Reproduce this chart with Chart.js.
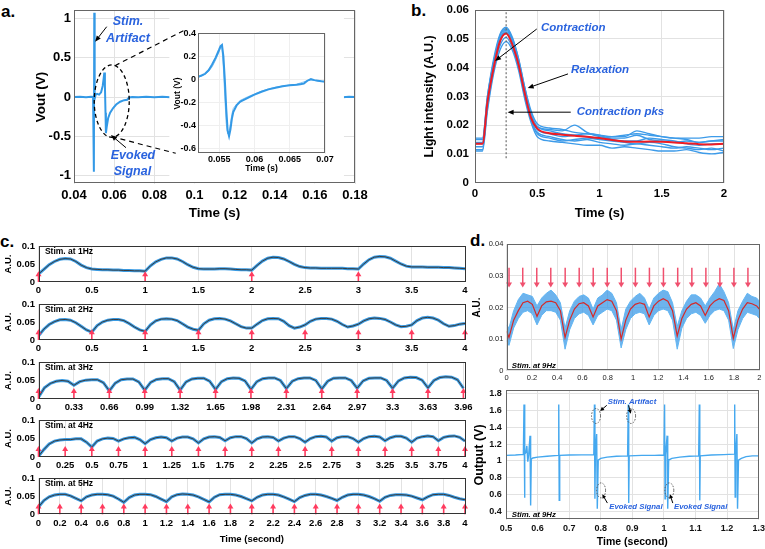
<!DOCTYPE html>
<html>
<head>
<meta charset="utf-8">
<script src="https://cdn.jsdelivr.net/npm/chart.js@4.4.1/dist/chart.umd.min.js"></script>
<style>
body { margin: 0; background: #fff; width: 765px; height: 549px; overflow: hidden; position: relative; }
canvas { position: absolute; }
.lbl { position: absolute; font: bold 17px 'Liberation Sans', Arial, sans-serif; line-height: 17px; color: #000; }
</style>
</head>
<body>
<div class="lbl" style="left:1px;top:3px">a.</div>
<div class="lbl" style="left:411px;top:2px">b.</div>
<div class="lbl" style="left:0px;top:233px">c.</div>
<div class="lbl" style="left:470px;top:232px">d.</div>
<script>
// ---- panel a: evoked signal ----
var aTime = [0.04,0.043,0.046,0.0485,0.0495,0.0499,0.0501,0.0503,0.0508,0.0515,0.0525,0.0535,0.0543,0.0548,0.0551,0.0554,0.0557,0.0559,0.0563,0.057,0.058,0.0595,0.061,0.063,0.065,0.0665,0.0675,0.069,0.072,0.076,0.08,0.084,0.088,0.092,0.17,0.174,0.177,0.18];
var aVout = [0.0,0.004,-0.003,0.002,0.0,-0.95,1.07,-0.02,0.03,0.04,0.03,0.06,0.14,0.24,0.31,0.15,-0.2,-0.46,-0.38,-0.27,-0.2,-0.14,-0.095,-0.06,-0.04,-0.035,-0.005,0.0,-0.004,0.003,-0.002,0.004,-0.003,0.0,0.002,-0.004,0.003,0.0];
var aTicksX = [0.04,0.06,0.08,0.1,0.12,0.14,0.16,0.18];
var aTicksY = [-1,-0.5,0,0.5,1];

var aInsetTime = [0.052,0.0525,0.053,0.0535,0.054,0.0545,0.055,0.0552,0.0554,0.0556,0.0558,0.056,0.0562,0.0564,0.0566,0.0568,0.057,0.0575,0.058,0.059,0.06,0.061,0.062,0.063,0.064,0.065,0.066,0.0665,0.067,0.0675,0.068,0.0685,0.069,0.0695,0.07];
var aInsetV1 = [0.025,0.035,0.05,0.08,0.13,0.19,0.26,0.29,0.3,0.2,0.0,-0.25,-0.44,-0.49,-0.43,-0.34,-0.28,-0.22,-0.19,-0.16,-0.13,-0.105,-0.085,-0.07,-0.058,-0.05,-0.045,-0.04,-0.035,-0.01,0.005,-0.005,-0.01,-0.015,-0.018];
var aInsetV2 = [0.02,0.03,0.045,0.07,0.11,0.17,0.24,0.28,0.27,0.1,-0.15,-0.38,-0.47,-0.45,-0.38,-0.3,-0.25,-0.21,-0.18,-0.15,-0.125,-0.1,-0.08,-0.066,-0.055,-0.048,-0.04,-0.03,-0.02,-0.01,-0.005,-0.008,-0.012,-0.014,-0.016];
var aInsetTicksX = [0.055,0.06,0.065,0.07];
var aInsetTicksY = [-0.6,-0.4,-0.2,0,0.2,0.4];

// ---- panel b: light intensity ----
var bTime = [0,0.06,0.1,0.15,0.2,0.25,0.3,0.35,0.4,0.45,0.5,0.6,0.7,0.8,0.9,1.0,1.1,1.2,1.3,1.4,1.5,1.6,1.7,1.8,1.9,2.0];
var bMean = [0.0135,0.0135,0.028,0.040,0.049,0.0518,0.048,0.041,0.031,0.0225,0.0188,0.0172,0.0167,0.0163,0.0160,0.0155,0.0148,0.0143,0.0142,0.0143,0.0142,0.0140,0.0137,0.0134,0.0133,0.0135];
var bTrace1 = [0.0155,0.0155,0.030,0.043,0.0515,0.054,0.0505,0.043,0.033,0.025,0.0205,0.019,0.0185,0.0175,0.017,0.0165,0.016,0.0165,0.017,0.0165,0.016,0.0155,0.0155,0.0155,0.016,0.016];
var bTrace2 = [0.011,0.011,0.025,0.038,0.046,0.049,0.046,0.039,0.029,0.021,0.016,0.0145,0.014,0.0135,0.013,0.013,0.012,0.0125,0.012,0.0115,0.011,0.011,0.0115,0.0105,0.010,0.0105];
var bTrace3 = [0.014,0.014,0.029,0.042,0.050,0.053,0.0495,0.042,0.032,0.024,0.0195,0.0185,0.018,0.020,0.0175,0.016,0.0155,0.0155,0.0165,0.015,0.0145,0.014,0.0145,0.014,0.0145,0.0145];
var bTrace4 = [0.0125,0.0125,0.026,0.039,0.0475,0.0505,0.047,0.040,0.030,0.022,0.0175,0.016,0.015,0.0145,0.015,0.014,0.0135,0.013,0.0135,0.013,0.0125,0.012,0.0125,0.012,0.0115,0.012];
var bTrace5 = [0.015,0.015,0.030,0.042,0.051,0.0535,0.050,0.043,0.033,0.024,0.0195,0.018,0.017,0.0165,0.016,0.0155,0.016,0.016,0.018,0.017,0.016,0.0155,0.015,0.014,0.0145,0.015];
var bTrace6 = [0.0115,0.0115,0.027,0.040,0.049,0.052,0.0485,0.041,0.031,0.022,0.017,0.0155,0.0145,0.015,0.0155,0.015,0.0145,0.014,0.0135,0.014,0.0135,0.0125,0.012,0.0115,0.012,0.011];
var bTrace7 = [0.0135,0.0135,0.028,0.041,0.0495,0.0525,0.049,0.042,0.032,0.023,0.0185,0.017,0.016,0.0165,0.017,0.0165,0.015,0.0145,0.0145,0.0155,0.015,0.0145,0.0135,0.013,0.0135,0.0135];
var bTicksX = [0,0.5,1,1.5,2];
var bTicksY = [0,0.01,0.02,0.03,0.04,0.05,0.06];

// ---- panel c: stimulation strips ----
var cTime = [0,0.05,0.1,0.15,0.2,0.25,0.3,0.35,0.4,0.45,0.5,0.55,0.6,0.65,0.7,0.75,0.8,0.85,0.9,0.95,1,1.05,1.1,1.15,1.2,1.25,1.3,1.35,1.4,1.45,1.5,1.55,1.6,1.65,1.7,1.75,1.8,1.85,1.9,1.95,2,2.05,2.1,2.15,2.2,2.25,2.3,2.35,2.4,2.45,2.5,2.55,2.6,2.65,2.7,2.75,2.8,2.85,2.9,2.95,3,3.05,3.1,3.15,3.2,3.25,3.3,3.35,3.4,3.45,3.5,3.55,3.6,3.65,3.7,3.75,3.8,3.85,3.9,3.95,4];
var cTime3 = [0,0.055,0.11,0.165,0.22,0.275,0.33,0.385,0.44,0.495,0.55,0.605,0.66,0.715,0.77,0.825,0.88,0.935,0.99,1.045,1.1,1.155,1.21,1.265,1.32,1.375,1.43,1.485,1.54,1.595,1.65,1.705,1.76,1.815,1.87,1.925,1.98,2.035,2.09,2.145,2.2,2.255,2.31,2.365,2.42,2.475,2.53,2.585,2.64,2.695,2.75,2.805,2.86,2.915,2.97,3.025,3.08,3.135,3.19,3.245,3.3,3.355,3.41,3.465,3.52,3.575,3.63,3.685,3.74,3.795,3.85,3.905,3.96];
var c1Hz = [0.022,0.035,0.048,0.057,0.063,0.065,0.064,0.057,0.047,0.040,0.036,0.035,0.034,0.034,0.033,0.033,0.032,0.032,0.031,0.031,0.030,
  0.045,0.056,0.063,0.067,0.067,0.064,0.057,0.048,0.041,0.037,0.036,0.036,0.036,0.037,0.037,0.036,0.035,0.034,0.034,0.033,
  0.046,0.058,0.066,0.069,0.068,0.064,0.057,0.049,0.043,0.040,0.039,0.039,0.038,0.038,0.038,0.038,0.038,0.037,0.037,0.036,
  0.050,0.062,0.069,0.071,0.070,0.066,0.058,0.050,0.044,0.042,0.042,0.042,0.041,0.041,0.041,0.040,0.040,0.039,0.038,0.037];
var c2Hz = [0.012,0.030,0.043,0.051,0.056,0.057,0.055,0.048,0.038,0.028,0.022,
  0.040,0.050,0.055,0.057,0.057,0.054,0.046,0.036,0.028,0.024,
  0.042,0.053,0.058,0.059,0.058,0.054,0.045,0.036,0.030,0.027,
  0.045,0.055,0.059,0.060,0.058,0.053,0.045,0.037,0.033,0.033,
  0.044,0.054,0.059,0.060,0.059,0.052,0.040,0.033,0.036,0.042,
  0.052,0.058,0.060,0.060,0.058,0.052,0.043,0.036,0.039,0.044,
  0.053,0.059,0.061,0.060,0.057,0.050,0.042,0.037,0.038,0.042,
  0.054,0.061,0.063,0.061,0.055,0.045,0.038,0.040,0.044,0.046];
var c3Hz = [0.005,0.030,0.042,0.048,0.050,0.048,0.037,
  0.047,0.051,0.052,0.052,0.044,0.022,
  0.043,0.052,0.054,0.054,0.046,0.024,
  0.045,0.053,0.055,0.055,0.047,0.024,
  0.046,0.054,0.056,0.056,0.048,0.026,
  0.047,0.055,0.057,0.056,0.049,0.026,
  0.047,0.055,0.057,0.057,0.050,0.028,
  0.048,0.055,0.057,0.057,0.050,0.027,
  0.048,0.056,0.057,0.057,0.050,0.029,
  0.049,0.056,0.057,0.057,0.050,0.029,
  0.049,0.057,0.059,0.058,0.051,0.030,
  0.050,0.058,0.060,0.059,0.052,0.029];
var c4Hz = [0.002,0.020,0.035,0.043,0.046,0.047,0.047,0.049,0.049,0.040,0.027,
  0.043,0.049,0.051,0.050,0.043,0.049,0.052,0.053,0.047,0.036,
  0.047,0.052,0.054,0.052,0.043,0.051,0.054,0.054,0.049,0.038,
  0.049,0.054,0.055,0.053,0.044,0.052,0.055,0.055,0.050,0.038,
  0.049,0.054,0.055,0.053,0.043,0.051,0.055,0.055,0.050,0.040,
  0.050,0.055,0.056,0.054,0.043,0.052,0.055,0.055,0.050,0.040,
  0.050,0.055,0.056,0.054,0.044,0.052,0.056,0.056,0.051,0.040,
  0.051,0.055,0.057,0.055,0.044,0.053,0.056,0.057,0.053,0.043];
var c5Hz = [0.020,0.038,0.048,0.053,0.055,0.055,0.051,0.044,0.037,
  0.048,0.053,0.055,0.055,0.054,0.050,0.042,0.033,
  0.046,0.053,0.055,0.055,0.054,0.049,0.042,0.035,
  0.048,0.054,0.056,0.055,0.053,0.048,0.041,0.034,
  0.047,0.054,0.055,0.055,0.053,0.049,0.043,0.037,
  0.047,0.053,0.055,0.055,0.053,0.048,0.042,0.035,
  0.046,0.052,0.055,0.055,0.053,0.049,0.044,0.038,
  0.047,0.053,0.055,0.055,0.053,0.049,0.043,0.036,
  0.047,0.052,0.054,0.054,0.053,0.050,0.045,0.040,
  0.048,0.054,0.055,0.055,0.052,0.047,0.043,0.040];
var cStim1 = [0,1,2,3];
var cTicksHalf = [0,0.5,1,1.5,2,2.5,3,3.5,4];
var cTicks3 = [0,0.33,0.66,0.99,1.32,1.65,1.98,2.31,2.64,2.97,3.3,3.63,3.96];
var cTicks4 = [0,0.25,0.5,0.75,1,1.25,1.5,1.75,2,2.25,2.5,2.75,3,3.25,3.5,3.75,4];
var cTicks5 = [0,0.2,0.4,0.6,0.8,1,1.2,1.4,1.6,1.8,2,2.2,2.4,2.6,2.8,3,3.2,3.4,3.6,3.8,4];
var cTicksY = [0,0.05,0.1];

// ---- panel d: 9 Hz stimulation ----
var dTopTime = [0,0.018,0.055,0.092,0.129,0.166,0.203,0.240,0.277,0.314,0.351,0.388,0.425,0.462,0.499,0.536,0.573,0.610,0.647,0.684,0.721,0.758,0.795,0.832,0.869,0.906,0.943,0.980,1.017,1.054,1.091,1.128,1.165,1.202,1.239,1.276,1.313,1.350,1.387,1.424,1.461,1.498,1.535,1.572,1.609,1.646,1.683,1.720,1.757,1.794,1.831,1.868,1.905,1.942,1.979,2.0];
var dTopMean = [0.0125,0.0105,0.016,0.019,0.0215,0.022,0.021,0.0172,0.0205,0.0218,0.022,0.0215,0.019,0.0105,0.016,0.0195,0.0212,0.0215,0.0205,0.017,0.0205,0.0215,0.0225,0.022,0.019,0.010,0.016,0.0195,0.021,0.0215,0.021,0.017,0.0205,0.022,0.0228,0.022,0.019,0.011,0.0165,0.0195,0.021,0.0215,0.0205,0.0175,0.0205,0.022,0.0228,0.0222,0.019,0.0102,0.016,0.0195,0.0215,0.0212,0.0205,0.0195];
var dTopUpper = [0.0145,0.0135,0.019,0.0225,0.0245,0.024,0.0235,0.0205,0.023,0.0245,0.0255,0.024,0.0215,0.0135,0.019,0.022,0.0235,0.024,0.023,0.0195,0.023,0.024,0.0255,0.0245,0.0215,0.013,0.0195,0.022,0.0235,0.0245,0.023,0.0195,0.023,0.0245,0.0255,0.025,0.0215,0.014,0.019,0.022,0.024,0.024,0.023,0.0205,0.023,0.025,0.0275,0.025,0.0215,0.013,0.019,0.022,0.0245,0.0235,0.023,0.022];
var dTopLower = [0.0095,0.008,0.0135,0.0165,0.0185,0.019,0.018,0.0145,0.0175,0.019,0.019,0.0185,0.016,0.0068,0.013,0.0165,0.018,0.0185,0.0175,0.0145,0.0175,0.0185,0.0195,0.019,0.016,0.0072,0.013,0.0165,0.018,0.0185,0.018,0.0145,0.0175,0.019,0.0195,0.019,0.016,0.0068,0.0135,0.0165,0.018,0.0185,0.0175,0.015,0.0175,0.019,0.0195,0.019,0.016,0.007,0.013,0.0165,0.0185,0.018,0.0175,0.0165];
var dStim = [0.0185,0.127,0.238,0.349,0.463,0.574,0.685,0.796,0.907,1.019,1.13,1.241,1.354,1.466,1.577,1.688,1.799,1.91];
var dTopTicksX = [0,0.2,0.4,0.6,0.8,1,1.2,1.4,1.6,1.8,2];
var dTopTicksY = [0,0.01,0.02,0.03,0.04];

var dBotTime = [0.5,0.53,0.555,0.557,0.5585,0.56,0.563,0.566,0.569,0.572,0.576,0.578,0.58,0.585,0.6,0.63,0.665,0.667,0.6685,0.67,0.7,0.74,0.778,0.78,0.7815,0.783,0.787,0.789,0.792,0.8,0.82,0.85,0.885,0.887,0.8885,0.89,0.93,0.97,1.0,1.002,1.0035,1.005,1.01,1.012,1.015,1.025,1.05,1.08,1.11,1.112,1.1135,1.115,1.15,1.19,1.222,1.224,1.2255,1.227,1.231,1.233,1.236,1.245,1.26,1.28,1.3];
var dBotVolt = [1.065,1.07,1.078,1.67,0.56,1.08,1.1,1.18,0.99,1.08,1.30,0.47,1.02,1.035,1.045,1.055,1.065,1.67,0.53,1.065,1.07,1.072,1.075,1.67,0.55,1.07,1.32,0.43,1.01,1.03,1.045,1.055,1.06,1.67,0.5,1.06,1.065,1.065,1.07,1.67,0.55,1.07,1.30,0.43,1.01,1.03,1.045,1.055,1.06,1.67,0.53,1.06,1.07,1.075,1.08,1.67,0.57,1.08,1.32,0.43,1.01,1.03,1.05,1.06,1.06];
var dBotTicksX = [0.5,0.6,0.7,0.8,0.9,1,1.1,1.2,1.3];
var dBotTicksY = [0.4,0.6,0.8,1,1.2,1.4,1.6,1.8];

var FONT = "'Liberation Sans', Arial, sans-serif";
var BLUE_TXT = '#2a63de';
var NOTES = {};
var FRAMES = {};

function pts(xs, ys) {
  return xs.map(function (x, i) { return { x: x, y: ys[i] }; });
}

function bold(size) { return { family: FONT, size: size, weight: 'bold' }; }

// draws annotations, stim arrows and the matlab-like box
Chart.register({
  id: 'notes',
  afterDatasetsDraw: function (chart) {
    var items = NOTES[chart.canvas.id] || [];
    var ctx = chart.ctx, sx = chart.scales.x, sy = chart.scales.y;
    var X = function (v) { return sx.getPixelForValue(v); };
    var Y = function (v) { return sy.getPixelForValue(v); };
    items.forEach(function (it) {
      ctx.save();
      ctx.strokeStyle = it.color || '#000';
      ctx.fillStyle = it.color || '#000';
      ctx.lineWidth = it.width || 1;
      ctx.setLineDash(it.dash || []);
      if (it.type === 'cover') {
        var a = chart.chartArea;
        ctx.fillStyle = '#fff';
        ctx.fillRect(X(it.x1), a.top, X(it.x2) - X(it.x1), a.bottom - a.top);
      } else if (it.type === 'line') {
        ctx.beginPath();
        ctx.moveTo(X(it.x1), Y(it.y1));
        ctx.lineTo(X(it.x2), Y(it.y2));
        ctx.stroke();
      } else if (it.type === 'arrow') {
        var x1 = X(it.x1), y1 = Y(it.y1), x2 = X(it.x2), y2 = Y(it.y2);
        var ang = Math.atan2(y2 - y1, x2 - x1), L = it.head || 6, W = it.headW || 2.5;
        var c = Math.cos(ang), s = Math.sin(ang);
        ctx.beginPath();
        ctx.moveTo(x1, y1);
        ctx.lineTo(x2 - L * 0.7 * c, y2 - L * 0.7 * s);
        ctx.stroke();
        ctx.beginPath();
        ctx.moveTo(x2, y2);
        ctx.lineTo(x2 - L * c + W * s, y2 - L * s - W * c);
        ctx.lineTo(x2 - L * c - W * s, y2 - L * s + W * c);
        ctx.closePath();
        ctx.fill();
      } else if (it.type === 'ellipse') {
        ctx.beginPath();
        ctx.ellipse(X(it.x), Y(it.y), Math.abs(X(it.x + it.rx) - X(it.x)), Math.abs(Y(it.y + it.ry) - Y(it.y)), 0, 0, 2 * Math.PI);
        ctx.stroke();
      } else if (it.type === 'text') {
        ctx.font = it.font;
        ctx.textAlign = it.align || 'left';
        ctx.textBaseline = 'middle';
        ctx.fillText(it.text, X(it.x), Y(it.y));
      }
      ctx.restore();
    });
  },
  afterDraw: function (chart) {
    var col = FRAMES[chart.canvas.id];
    if (!col) return;
    var a = chart.chartArea, ctx = chart.ctx;
    ctx.save();
    ctx.strokeStyle = col;
    ctx.lineWidth = 1;
    ctx.strokeRect(Math.round(a.left) + 0.5, Math.round(a.top) + 0.5, Math.round(a.right - a.left) - 1, Math.round(a.bottom - a.top) - 1);
    ctx.restore();
  }
});

function axis(min, max, ticks, o) {
  var ax = {
    type: 'linear', min: min, max: max,
    afterBuildTicks: function (s) { s.ticks = ticks.map(function (v) { return { value: v }; }); },
    ticks: {
      autoSkip: false, maxRotation: 0, minRotation: 0, padding: o.pad,
      font: o.font, color: o.color || '#000',
      callback: function (v) { return String(v); }
    },
    grid: { display: o.grid !== false, color: o.gridColor || '#e2e2e2', drawTicks: false, lineWidth: 1 },
    border: { display: false },
    title: { display: false }
  };
  if (o.title) {
    ax.title = { display: true, text: o.title, font: o.titleFont, color: '#000', padding: o.titlePad };
  }
  return ax;
}

// box = canvas rect on the page, area = plot rect [left, top, right, bottom]
function plotChart(id, box, area, datasets, xs, ys) {
  var cv = document.createElement('canvas');
  cv.id = id;
  cv.width = box[2];
  cv.height = box[3];
  cv.style.left = box[0] + 'px';
  cv.style.top = box[1] + 'px';
  document.body.appendChild(cv);
  var yW = area[0] - box[0], xH = box[1] + box[3] - area[3];
  xs.afterFit = function (s) { s.height = xH; s.paddingLeft = 0; s.paddingRight = 0; };
  ys.afterFit = function (s) { s.width = yW; s.paddingTop = 0; s.paddingBottom = 0; };
  return new Chart(cv.getContext('2d'), {
    type: 'line',
    data: { datasets: datasets },
    options: {
      responsive: false, animation: false, devicePixelRatio: 1,
      layout: { padding: { top: area[1] - box[1], right: box[0] + box[2] - area[2], left: 0, bottom: 0 } },
      plugins: { legend: { display: false }, tooltip: { enabled: false } },
      elements: { point: { radius: 0 }, line: { tension: 0 } },
      scales: { x: xs, y: ys }
    }
  });
}

// ---------- panel a ----------
var aNote = 'italic bold 12.5px ' + FONT;
NOTES.chartA = [
  { type: 'cover', x1: 0.0875, x2: 0.1745 },
  { type: 'ellipse', x: 0.0588, y: -0.053, rx: 0.00872, ry: 0.46, dash: [4, 3], width: 1.3 },
  { type: 'line', x1: 0.0604, y1: 0.398, x2: 0.0945, y2: 0.842, dash: [5, 4], width: 1.2 },
  { type: 'line', x1: 0.0588, y1: -0.504, x2: 0.0907, y2: -0.715, dash: [5, 4], width: 1.2 },
  { type: 'text', text: 'Stim.', x: 0.0669, y: 0.953, align: 'center', font: aNote, color: BLUE_TXT },
  { type: 'text', text: 'Artifact', x: 0.0669, y: 0.737, align: 'center', font: aNote, color: BLUE_TXT },
  { type: 'arrow', x1: 0.0563, y1: 0.893, x2: 0.0505, y2: 0.703 },
  { type: 'text', text: 'Evoked', x: 0.0694, y: -0.746, align: 'center', font: aNote, color: BLUE_TXT },
  { type: 'text', text: 'Signal', x: 0.0691, y: -0.949, align: 'center', font: aNote, color: BLUE_TXT },
  { type: 'arrow', x1: 0.0659, y1: -0.644, x2: 0.0584, y2: -0.483 }
];
FRAMES.chartA = '#666';
plotChart('chartA', [0, 0, 375, 232], [74, 10.4, 355, 183.6],
  [{ data: pts(aTime, aVout), borderColor: '#3399e6', borderWidth: 2 }],
  axis(0.04, 0.18, aTicksX, { pad: 4, font: bold(13), title: 'Time (s)', titleFont: bold(13.5), titlePad: { top: 0, bottom: 10.9 } }),
  axis(-1.1, 1.1, aTicksY, { pad: 3, font: bold(13), title: 'Vout (V)', titleFont: bold(13.5), titlePad: { top: 33.6, bottom: 0 } })
);

FRAMES.chartAInset = '#666';
plotChart('chartAInset', [165, 22, 180, 158], [198, 33.3, 325, 153.6],
  [{ data: pts(aInsetTime, aInsetV1), borderColor: '#3399e6', borderWidth: 2 },
   { data: pts(aInsetTime, aInsetV2), borderColor: '#7cc0f2', borderWidth: 1 }],
  axis(0.052, 0.07, aInsetTicksX, { pad: 1, font: bold(9), gridColor: '#efefef', title: 'Time (s)', titleFont: bold(8.5), titlePad: { top: 0, bottom: 6.6 } }),
  axis(-0.64, 0.4, aInsetTicksY, { pad: 2, font: bold(9), gridColor: '#efefef', title: 'Vout (V)', titleFont: bold(8.5), titlePad: { top: 7.4, bottom: 0 } })
);

// ---------- panel b ----------
var bNote = 'italic bold 11.5px ' + FONT;
NOTES.chartB = [
  { type: 'line', x1: 0.25, y1: 0.0085, x2: 0.25, y2: 0.06, dash: [2, 2], color: '#555' },
  { type: 'text', text: 'Contraction', x: 0.53, y: 0.0538, font: bNote, color: BLUE_TXT },
  { type: 'arrow', x1: 0.496, y1: 0.0534, x2: 0.161, y2: 0.0423 },
  { type: 'text', text: 'Relaxation', x: 0.771, y: 0.0392, font: bNote, color: BLUE_TXT },
  { type: 'arrow', x1: 0.747, y1: 0.0378, x2: 0.423, y2: 0.0329 },
  { type: 'text', text: 'Contraction pks', x: 0.817, y: 0.0245, font: bNote, color: BLUE_TXT },
  { type: 'arrow', x1: 0.769, y1: 0.0245, x2: 0.262, y2: 0.0245 }
];
FRAMES.chartB = '#666';
var bBlue = [bTrace1, bTrace2, bTrace3, bTrace4, bTrace5, bTrace6, bTrace7].map(function (tr) {
  return { data: pts(bTime, tr), borderColor: '#3d9be9', borderWidth: 1.4, cubicInterpolationMode: 'monotone' };
});
plotChart('chartB', [380, 0, 375, 232], [475, 10, 724, 182.7],
  [{ data: pts(bTime, bMean), borderColor: '#ee1c24', borderWidth: 2, cubicInterpolationMode: 'monotone' }].concat(bBlue),
  axis(0, 2, bTicksX, { pad: 4, font: bold(11.5), title: 'Time (s)', titleFont: bold(13), titlePad: { top: 0, bottom: 11.2 } }),
  axis(0, 0.06, bTicksY, { pad: 6, font: bold(11.5), title: 'Light intensity (A.U.)', titleFont: bold(12.5), titlePad: { top: 41.8, bottom: 0 } })
);

// ---------- panel c ----------
var cStrips = [
  { id: 'chartC1', top: 245.7, bottom: 282.3, time: cTime, vals: c1Hz, stim: cStim1, ticks: cTicksHalf, max: 4, label: 'Stim. at 1Hz' },
  { id: 'chartC2', top: 303.8, bottom: 340.2, time: cTime, vals: c2Hz, stim: cTicksHalf, ticks: cTicksHalf, max: 4, label: 'Stim. at 2Hz' },
  { id: 'chartC3', top: 362.3, bottom: 399.3, time: cTime3, vals: c3Hz, stim: cTicks3, ticks: cTicks3, max: 3.975, label: 'Stim. at 3Hz' },
  { id: 'chartC4', top: 420.2, bottom: 457.3, time: cTime, vals: c4Hz, stim: cTicks4, ticks: cTicks4, max: 4, label: 'Stim. at 4Hz' },
  { id: 'chartC5', top: 478.3, bottom: 515.3, time: cTime, vals: c5Hz, stim: cTicks5, ticks: cTicks5, max: 4, label: 'Stim. at 5Hz' }
];
cStrips.forEach(function (st, k) {
  var last = k === cStrips.length - 1;
  var notes = [{ type: 'text', text: st.label, x: 0.06, y: 0.085, font: 'bold 8.5px ' + FONT, color: '#000' }];
  st.stim.forEach(function (t) {
    notes.push({ type: 'arrow', x1: t, y1: 0, x2: t, y2: 0.03, color: '#ff3b5e', width: 1.6, head: 5, headW: 3 });
  });
  NOTES[st.id] = notes;
  FRAMES[st.id] = '#333';
  var boxTop = st.top - 9;
  var boxH = last ? 549 - boxTop : st.bottom + 18 - boxTop;
  var xs = axis(0, st.max, st.ticks, { pad: 3, font: bold(9.5) });
  if (last) {
    xs.title = { display: true, text: 'Time (second)', font: bold(9.5), color: '#000', padding: { top: 0, bottom: 3.3 } };
  }
  plotChart(st.id, [0, boxTop, 480, boxH], [38.5, st.top, 465, st.bottom],
    [{ data: pts(st.time, st.vals), borderColor: '#3a3a3a', borderWidth: 1 },
     { data: pts(st.time, st.vals), borderColor: '#3a9be3', borderWidth: 3 }],
    xs,
    axis(0, 0.1, cTicksY, { pad: 3.5, grid: false, font: bold(9.5), title: 'A.U.', titleFont: bold(9.5), titlePad: { top: 2.6, bottom: 0 } })
  );
});

// ---------- panel d (top) ----------
var dTopNotes = [{ type: 'text', text: 'Stim. at 9Hz', x: 0.04, y: 0.0016, font: 'italic bold 7.8px ' + FONT, color: '#000' }];
dStim.forEach(function (t) {
  dTopNotes.push({ type: 'arrow', x1: t, y1: 0.0326, x2: t, y2: 0.0263, color: '#f0506e', width: 1.5, head: 5, headW: 3 });
});
NOTES.chartDTop = dTopNotes;
FRAMES.chartDTop = '#666';
plotChart('chartDTop', [468, 236, 297, 146], [506.7, 244.3, 759.3, 370.7],
  [{ data: pts(dTopTime, dTopMean), borderColor: '#d42a2a', borderWidth: 1.2 },
   { data: pts(dTopTime, dTopUpper), borderColor: '#62b6f3', borderWidth: 1 },
   { data: pts(dTopTime, dTopLower), borderColor: '#62b6f3', borderWidth: 1, fill: '-1', backgroundColor: 'rgba(52,150,230,0.72)' }],
  axis(0, 2, dTopTicksX, { pad: 3, font: { family: FONT, size: 7.5 }, color: '#222' }),
  axis(0, 0.04, dTopTicksY, { pad: 3.4, font: { family: FONT, size: 7.5 }, color: '#222', title: 'A.U.', titleFont: bold(10), titlePad: { top: 3.3, bottom: 0 } })
);

// ---------- panel d (bottom) ----------
var dNote = 'italic bold 7.8px ' + FONT;
NOTES.chartDBot = [
  { type: 'ellipse', x: 0.785, y: 1.534, rx: 0.0142, ry: 0.089, dash: [1.5, 1.5], color: '#555' },
  { type: 'ellipse', x: 0.896, y: 1.534, rx: 0.0142, ry: 0.089, dash: [1.5, 1.5], color: '#555' },
  { type: 'ellipse', x: 0.801, y: 0.649, rx: 0.0142, ry: 0.089, dash: [1.5, 1.5], color: '#555' },
  { type: 'ellipse', x: 1.017, y: 0.649, rx: 0.0142, ry: 0.089, dash: [1.5, 1.5], color: '#555' },
  { type: 'text', text: 'Stim. Artifact', x: 0.822, y: 1.70, font: dNote, color: BLUE_TXT },
  { type: 'arrow', x1: 0.819, y1: 1.661, x2: 0.798, y2: 1.594, head: 4, headW: 2 },
  { type: 'arrow', x1: 0.888, y1: 1.661, x2: 0.895, y2: 1.562, head: 4, headW: 2 },
  { type: 'text', text: 'Evoked Signal', x: 0.827, y: 0.451, font: dNote, color: BLUE_TXT },
  { type: 'text', text: 'Evoked Signal', x: 1.032, y: 0.451, font: dNote, color: BLUE_TXT },
  { type: 'arrow', x1: 0.821, y1: 0.498, x2: 0.805, y2: 0.602, head: 4, headW: 2 },
  { type: 'arrow', x1: 1.028, y1: 0.498, x2: 1.019, y2: 0.602, head: 4, headW: 2 },
  { type: 'text', text: 'Stim. at 9Hz', x: 0.518, y: 0.363, font: dNote, color: '#000' }
];
FRAMES.chartDBot = '#666';
plotChart('chartDBot', [468, 382, 297, 167], [506, 390.3, 758.7, 519.7],
  [{ data: pts(dBotTime, dBotVolt), borderColor: '#45a8ef', borderWidth: 1.4 }],
  axis(0.5, 1.3, dBotTicksX, { pad: 3, font: bold(9), color: '#111', title: 'Time (second)', titleFont: bold(10.5), titlePad: { top: 0, bottom: 0.4 } }),
  axis(0.3, 1.84, dBotTicksY, { pad: 4.3, font: bold(9), color: '#111', title: 'Output (V)', titleFont: bold(12.5), titlePad: { top: 4.5, bottom: 0 } })
);
</script>
</body>
</html>
